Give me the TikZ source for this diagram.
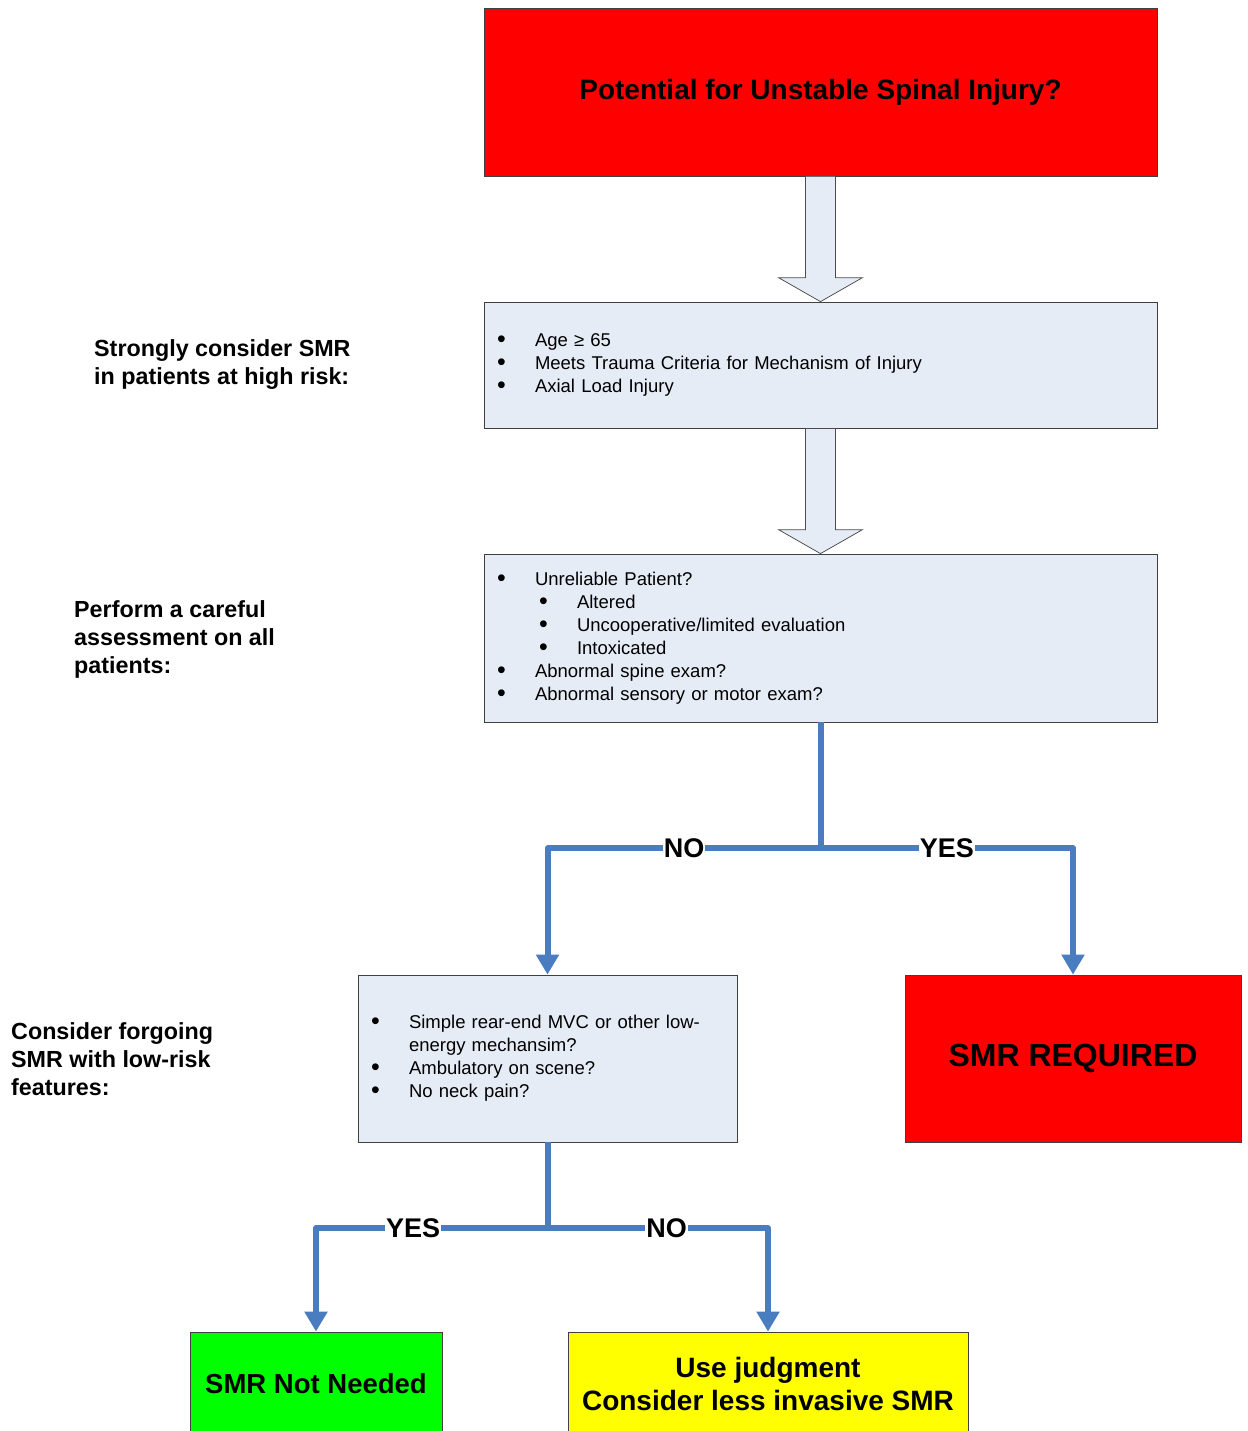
\documentclass[tikz,border=0pt]{standalone}
\usepackage{fontspec}
\setmainfont{Liberation Sans}
\usepackage{tikz}
\usetikzlibrary{arrows.meta}
\usetikzlibrary{calc}
\definecolor{Box-red}{RGB}{255,0,0}
\definecolor{Box-green}{RGB}{0,255,0}
\definecolor{Box-yellow}{RGB}{255,255,0}
\definecolor{Box-blue}{RGB}{230,236,246}
\definecolor{Flow-blue}{RGB}{74,124,192}

% bullet items inside the criteria boxes
\newcommand{\bigbul}{\raisebox{-0.8pt}{\scalebox{1.35}{\textbullet}}}
\newcommand{\bul}[1]{\makebox[38pt][l]{\bigbul}#1}
\newcommand{\subbul}[1]{\hspace*{42pt}\makebox[38pt][l]{\bigbul}#1}

\begin{document}
\begin{tikzpicture}[x=1pt, y=-1pt,
    box/.style    = {draw=black!75, line width=0.75pt, inner sep=0pt, text=black},
    alarm/.style  = {box, fill=Box-red},
    list/.style   = {box, fill=Box-blue, align=left, inner xsep=13pt, font=\fontsize{18.5}{23}\selectfont},
    side/.style   = {anchor=west, align=left, inner sep=0pt, font=\bfseries\fontsize{23.3}{28}\selectfont},
    hollow/.style = {draw=black!70, line width=0.75pt, fill=Box-blue},
    flow/.style   = {draw=Flow-blue, line width=6pt, line join=round},
    tip/.style    = {flow, -{Triangle[width=22pt, length=20pt]}},
    answer/.style = {fill=white, inner sep=1pt, text=black, font=\bfseries\fontsize{27}{30}\selectfont}]

  \useasboundingbox (0, 0) rectangle (1247, 1431);

  % boxes
  \node[alarm, minimum width=673pt, minimum height=168pt, font=\bfseries\fontsize{28}{33}\selectfont] (spine) at (820.5, 92) {Potential for Unstable Spinal Injury?};
  \node[list, text width=647pt, minimum height=126pt] (risk) at (820.5, 365) {%
    \bul{Age ≥ 65}\\
    \bul{Meets Trauma Criteria for Mechanism of Injury}\\
    \bul{Axial Load Injury}};
  \node[list, text width=647pt, minimum height=168pt] (assess) at (820.5, 638) {%
    \bul{Unreliable Patient?}\\
    \subbul{Altered}\\
    \subbul{Uncooperative/limited evaluation}\\
    \subbul{Intoxicated}\\
    \bul{Abnormal spine exam?}\\
    \bul{Abnormal sensory or motor exam?}};
  \node[list, text width=353pt, minimum height=167pt] (lowrisk) at (547.5, 1058.5) {%
    \bul{Simple rear-end MVC or other low-}\\
    \hspace*{38pt}energy mechansim?\\
    \bul{Ambulatory on scene?}\\
    \bul{No neck pain?}};
  \node[alarm, minimum width=336pt, minimum height=167pt, font=\bfseries\fontsize{32}{36}\selectfont] (required) at (1073, 1058.5) {SMR REQUIRED};
  \node[box, fill=Box-green, minimum width=252pt, minimum height=104pt, font=\bfseries\fontsize{27.5}{33}\selectfont] (notneeded) at (316, 1384) {SMR Not Needed};
  \node[box, fill=Box-yellow, minimum width=400pt, minimum height=104pt, align=center, font=\bfseries\fontsize{28}{33}\selectfont] (judge) at (768, 1384) {Use judgment\\Consider less invasive SMR};

  % side notes
  \node[side] (highrisk) at (94, 365)  {Strongly consider SMR\\in patients at high risk:};
  \node[side] (careful)  at (74, 639)  {Perform a careful\\assessment on all\\patients:};
  \node[side] (lowfeat)  at (11, 1059) {Consider forgoing\\SMR with low-risk\\features:};

  % hollow arrows between the upper boxes
  \draw[hollow] ($(spine.south)+(-15,0)$) -- ($(risk.north)+(-15,-24)$) -- ++(-27,0) -- (risk.north) -- ++(42,-24) -- ++(-27,0) -- ($(spine.south)+(15,0)$) -- cycle;
  \draw[hollow] ($(risk.south)+(-15,0)$) -- ($(assess.north)+(-15,-24)$) -- ++(-27,0) -- (assess.north) -- ++(42,-24) -- ++(-27,0) -- ($(risk.south)+(15,0)$) -- cycle;

  % decisions
  \draw[flow] (assess.south) -- ++(0, 126) coordinate (fork1);
  \draw[tip]  (fork1) -| (lowrisk.north)  node[answer, pos=0.25] {NO};
  \draw[tip]  (fork1) -| (required.north) node[answer, pos=0.25] {YES};

  \draw[flow] (lowrisk.south) -- ++(0, 86) coordinate (fork2);
  \draw[tip]  (fork2) -| (notneeded.north) node[answer, pos=0.29] {YES};
  \draw[tip]  (fork2) -| (judge.north)     node[answer, pos=0.27] {NO};
\end{tikzpicture}
\end{document}
